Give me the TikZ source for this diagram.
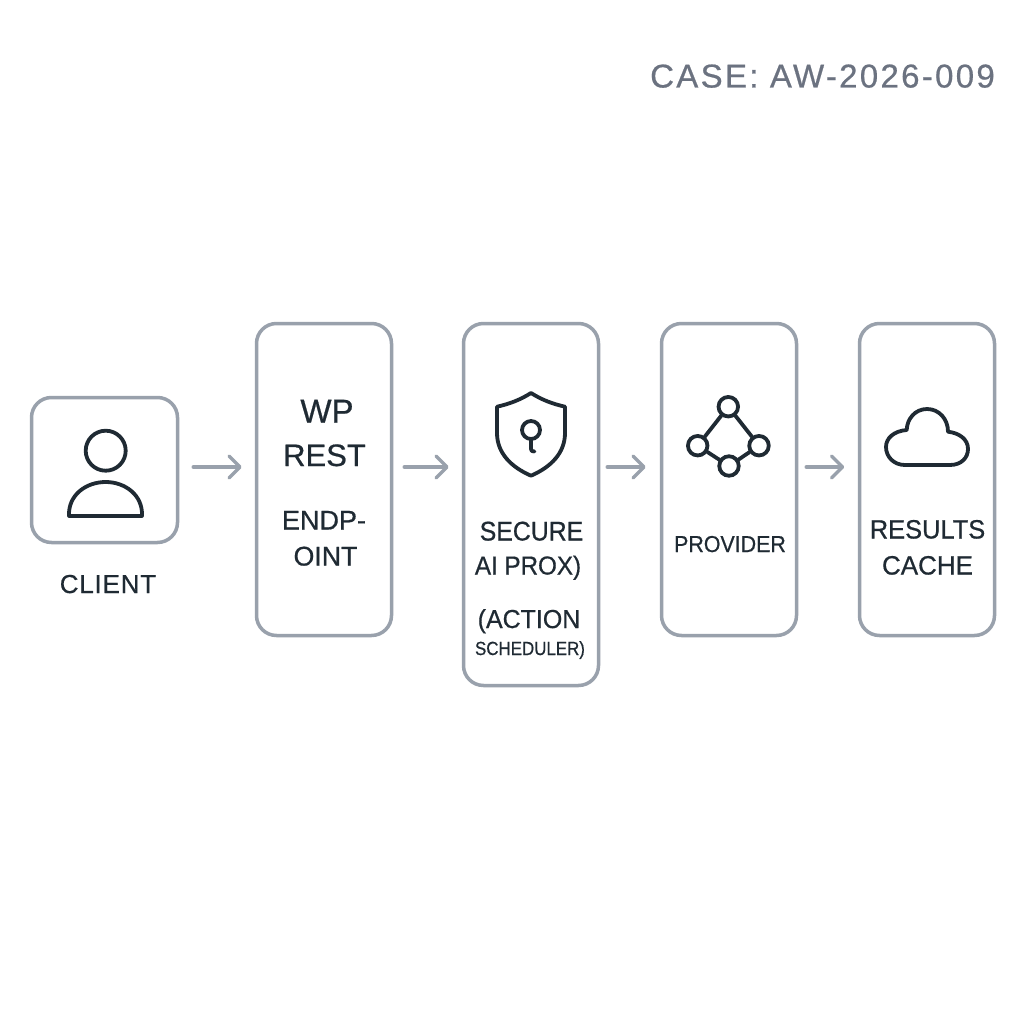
\documentclass[tikz,border=0pt]{standalone}
\usepackage{fontspec}
\setmainfont{Liberation Sans}
\usetikzlibrary{arrows.meta,calc}
\definecolor{boxgray}{HTML}{99A1AC}
\definecolor{inkdark}{HTML}{1F2A33}
\definecolor{casegray}{HTML}{6B7280}
\newcommand{\fs}[3]{\fontsize{#1}{#1}\selectfont\addfontfeature{LetterSpace=#2,FakeStretch=#3,FakeBold=0.6}}
\tikzset{
  box/.style={draw=boxgray,line width=3.5pt,rounded corners=20pt,fill=white,inner sep=0pt,minimum width=#1},
  box/.default=135pt,
  flow/.style={draw=boxgray,line width=3.5pt,line cap=round,-{Straight Barb[length=11pt,width=22pt,round]}},
  icon/.style={draw=inkdark,line width=3.8pt,line join=round,line cap=round},
  hub/.style={circle,draw=inkdark,line width=3.8pt,minimum size=19.5pt,inner sep=0pt},
  lbl/.style={anchor=base,inner sep=0pt,text=inkdark},
}
\begin{document}
\begin{tikzpicture}[x=1pt,y=-1pt]
\useasboundingbox[fill=white] (0,0) rectangle (1024,1024);
% boxes
\node[box=146pt,minimum height=145pt] (client) at (104.5,470) {};
\node[box,minimum height=312pt] (wp) at (324,479.5) {};
\node[box,minimum height=362pt] (sec) at (531,504.5) {};
\node[box,minimum height=312pt] (prov) at (729,479.5) {};
\node[box,minimum height=312pt] (cache) at (927,479.5) {};
% connectors
\coordinate (lane) at (0,467);
\draw[flow,shorten <=14pt,shorten >=13pt] (client.east |- lane) -- (wp.west |- lane);
\draw[flow,shorten <=11pt,shorten >=13pt] (wp.east |- lane) -- (sec.west |- lane);
\draw[flow,shorten <=7pt,shorten >=14pt] (sec.east |- lane) -- (prov.west |- lane);
\draw[flow,shorten <=8pt,shorten >=13.5pt] (prov.east |- lane) -- (cache.west |- lane);
% person icon
\draw[icon] (105.7,450.7) circle (20);
\draw[icon] (69,516) -- (142,516) .. controls (143,495) and (125,482) .. (105.7,482) .. controls (86,482) and (68,495) .. (69,516) -- cycle;
% shield icon
\draw[icon] (531,393) .. controls (542,400) and (553,404) .. (565,406.7) -- (565,433) .. controls (565,453) and (551,467) .. (531,475.7) .. controls (511,467) and (497,453) .. (497,433) -- (497,406.7) .. controls (509,404) and (520,400) .. (531,393) -- cycle;
\draw[icon] (531,430) circle (9);
\draw[icon] (531,439) -- (531,449) .. controls (531,451) and (532,451.5) .. (534.5,451.5);
% network icon
\node[hub] (n1) at (728.3,406.7) {};
\node[hub] (n2) at (697.7,445.7) {};
\node[hub] (n3) at (759,445.7) {};
\node[hub] (n4) at (729,466) {};
\draw[icon] (n1) -- (n2);
\draw[icon] (n1) -- (n3);
\draw[icon] (n2) -- (n4);
\draw[icon] (n3) -- (n4);
% cloud icon
\draw[icon] (905,465) -- (950,465) .. controls (961,465) and (968,458) .. (968,449) .. controls (968,439) and (959,433) .. (948,431.7) .. controls (948,419) and (939,409) .. (927,409) .. controls (915,409) and (907,419) .. (906.7,430) .. controls (894,431) and (886,438) .. (886,447) .. controls (886,457) and (894,465) .. (905,465) -- cycle;
% labels
\node[lbl,font=\fs{26}{3}{1}] (t0) at (108,593) {CLIENT};
\node[lbl,font=\fs{33}{0}{1}] (t1) at (327,422.5) {WP};
\node[lbl,font=\fs{31}{0}{1}] (t2) at (324.5,466) {REST};
\node[lbl,font=\fs{27}{0}{1}] (t3) at (324,529.5) {ENDP-};
\node[lbl,font=\fs{27}{0}{.99}] (t4) at (325.5,565.5) {OINT};
\node[lbl,font=\fs{27}{0}{.92}] (t5) at (531.5,540.5) {SECURE};
\node[lbl,font=\fs{26}{0}{.93}] (t6) at (528,574.5) {AI PROX)};
\node[lbl,font=\fs{26}{0}{.96}] (t7) at (529,628) {(ACTION};
\node[lbl,font=\fs{19}{0}{.89}] (t8) at (530,655) {SCHEDULER)};
\node[lbl,font=\fs{23}{0}{.93}] (t9) at (730,552) {PROVIDER};
\node[lbl,font=\fs{26.5}{0}{.96}] (t10) at (927.5,538.5) {RESULTS};
\node[lbl,font=\fs{26.5}{0}{.98}] (t11) at (927.5,574.5) {CACHE};
\node[lbl,font=\fs{33}{7}{1},text=casegray] (t12) at (822.5,87.5) {CASE: AW-2026-009};
\end{tikzpicture}
\end{document}
